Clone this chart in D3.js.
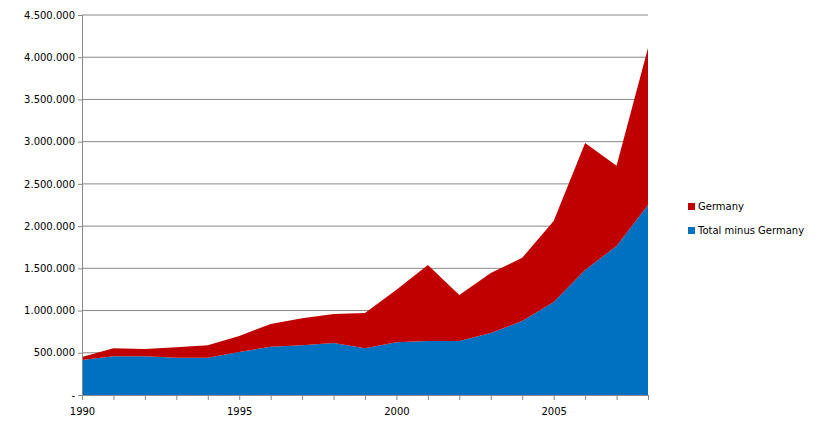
<!DOCTYPE html>
<html><head><meta charset="utf-8">
<script src="https://cdn.jsdelivr.net/npm/d3@7"></script>
<style>body{margin:0;background:#fff}text{font-family:"DejaVu Sans",Verdana,sans-serif;font-size:10px;fill:#000}</style>
</head><body>
<script>
var years = d3.range(1990, 2009);
var restOfTotal = [415,460,460,440,440,510,570,590,615,555,625,640,640,735,875,1100,1480,1765,2250].map(function(d){return d*1000;});
var totalAll = [450,555,545,565,590,700,840,910,960,970,1245,1540,1185,1445,1625,2060,2985,2715,4110].map(function(d){return d*1000;});
var germany = totalAll.map(function(d, i){ return d - restOfTotal[i]; });
var yTicks = d3.range(0, 4500001, 500000);
var xLabels = [1990, 1995, 2000, 2005];

var rows = years.map(function(y, i){ return {year: y, rest: restOfTotal[i], germany: germany[i]}; });
var stack = d3.stack().keys(["rest", "germany"])(rows);
var colors = {rest: "#0070C0", germany: "#C00000"};

var svg = d3.select("body").append("svg").attr("width", 823).attr("height", 439);
var x = d3.scaleLinear().domain([1990, 2008]).range([82, 648]);
var y = d3.scaleLinear().domain([0, 4500000]).range([395, 15]);

svg.selectAll(".grid").data(yTicks.slice(1)).enter().append("line")
  .attr("x1", 82).attr("x2", 648)
  .attr("y1", function(d){ return y(d); }).attr("y2", function(d){ return y(d); })
  .attr("stroke", "#888").attr("stroke-width", 1);

var area = d3.area()
  .x(function(d){ return x(d.data.year); })
  .y0(function(d){ return y(d[0]); })
  .y1(function(d){ return y(d[1]); });

svg.selectAll(".layer").data(stack).enter().append("path")
  .attr("d", area).attr("fill", function(d){ return colors[d.key]; });

var fmt = function(d){ return d === 0 ? "-" : d3.format(",")(d).replace(/,/g, "."); };
var yAxis = svg.append("g").attr("transform", "translate(82,0)")
  .call(d3.axisLeft(y).tickValues(yTicks).tickFormat(fmt).tickSize(4));
yAxis.select(".domain").attr("stroke", "#888");
yAxis.selectAll(".tick line").attr("stroke", "#888");

var xAxis = svg.append("g").attr("transform", "translate(0,395)")
  .call(d3.axisBottom(x).tickValues(years).tickSize(5)
    .tickFormat(function(d){ return xLabels.indexOf(d) >= 0 ? d : ""; }));
xAxis.select(".domain").attr("stroke", "#888");
xAxis.selectAll(".tick line").attr("stroke", "#888");
xAxis.selectAll("text").attr("dy", "1.2em");
svg.selectAll(".tick text").style("font-family", "DejaVu Sans").style("font-size", "10px");

var legend = [["Germany", "#C00000"], ["Total minus Germany", "#0070C0"]];
var lg = svg.selectAll(".lg").data(legend).enter().append("g")
  .attr("transform", function(d, i){ return "translate(688," + (203 + i * 24) + ")"; });
lg.append("rect").attr("width", 7).attr("height", 7).attr("fill", function(d){ return d[1]; });
lg.append("text").attr("x", 10).attr("y", 7).text(function(d){ return d[0]; });
</script>
</body></html>
